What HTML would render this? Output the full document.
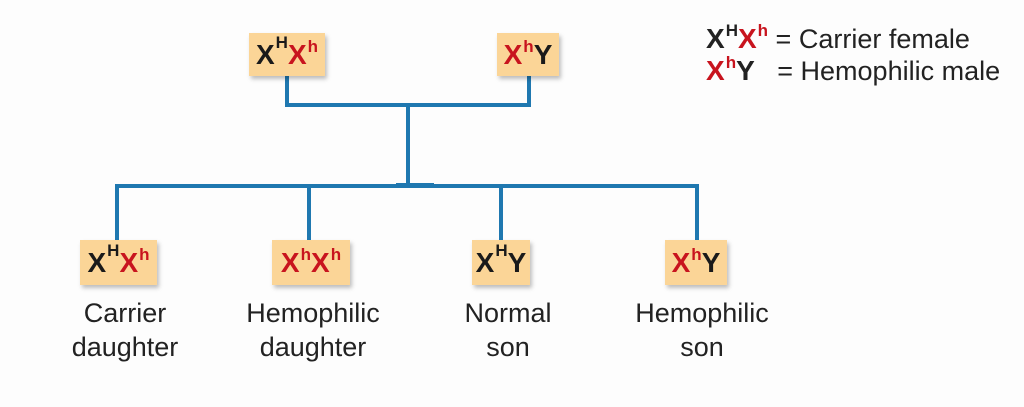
<!DOCTYPE html>
<html><head><meta charset="utf-8"><style>
body{margin:0;width:1024px;height:407px;background:#fdfdfd;position:relative;overflow:hidden;font-family:"Liberation Sans",sans-serif;color:#222}
.ln{position:absolute;background:#1f78b0}
.box{position:absolute;background:#fbd597;box-shadow:2px 3px 4px rgba(0,0,0,.25);font-weight:bold;font-size:28px;display:flex;align-items:center;justify-content:center;color:#1a1a1a}
.r{color:#c8141e}
sup{font-size:17px;font-weight:bold;vertical-align:0;position:relative;top:-12px;margin-left:1px}
.lab{position:absolute;text-align:center;font-size:27px;line-height:34px;width:200px}
.leg{position:absolute;left:706px;font-size:27px;line-height:31px;white-space:nowrap}
.leg b{font-size:28px}
</style></head><body>
<div class="ln" style="left:285px;top:76px;width:4px;height:31px"></div>
<div class="ln" style="left:527px;top:76px;width:4px;height:31px"></div>
<div class="ln" style="left:285px;top:103px;width:246px;height:4px"></div>
<div class="ln" style="left:406px;top:103px;width:4px;height:84px"></div>
<div class="ln" style="left:115px;top:184px;width:584px;height:4px"></div>
<div class="ln" style="left:396px;top:183px;width:38px;height:5px"></div>
<div class="ln" style="left:115px;top:184px;width:4px;height:57px"></div>
<div class="ln" style="left:307px;top:184px;width:4px;height:57px"></div>
<div class="ln" style="left:499px;top:184px;width:4px;height:57px"></div>
<div class="ln" style="left:695px;top:184px;width:4px;height:57px"></div>

<div class="box" style="left:249px;top:33px;width:76px;height:43px">X<sup>H</sup><span class="r">X<sup>h</sup></span></div>
<div class="box" style="left:497px;top:33px;width:62px;height:43px"><span class="r">X<sup>h</sup></span>Y</div>

<div class="box" style="left:80px;top:240px;width:77px;height:45px">X<sup>H</sup><span class="r">X<sup>h</sup></span></div>
<div class="box" style="left:272px;top:240px;width:78px;height:45px"><span class="r">X<sup>h</sup>X<sup>h</sup></span></div>
<div class="box" style="left:472px;top:240px;width:58px;height:45px">X<sup>H</sup>Y</div>
<div class="box" style="left:665px;top:240px;width:62px;height:45px"><span class="r">X<sup>h</sup></span>Y</div>

<div class="lab" style="left:25px;top:296px">Carrier<br>daughter</div>
<div class="lab" style="left:213px;top:296px">Hemophilic<br>daughter</div>
<div class="lab" style="left:408px;top:296px">Normal<br>son</div>
<div class="lab" style="left:602px;top:296px">Hemophilic<br>son</div>

<div class="leg" style="top:23px"><b>X<sup>H</sup><span class="r">X<sup>h</sup></span></b> = Carrier female</div>
<div class="leg" style="top:55px"><b><span class="r">X<sup>h</sup></span>Y</b>&nbsp;&nbsp; = Hemophilic male</div>
</body></html>
